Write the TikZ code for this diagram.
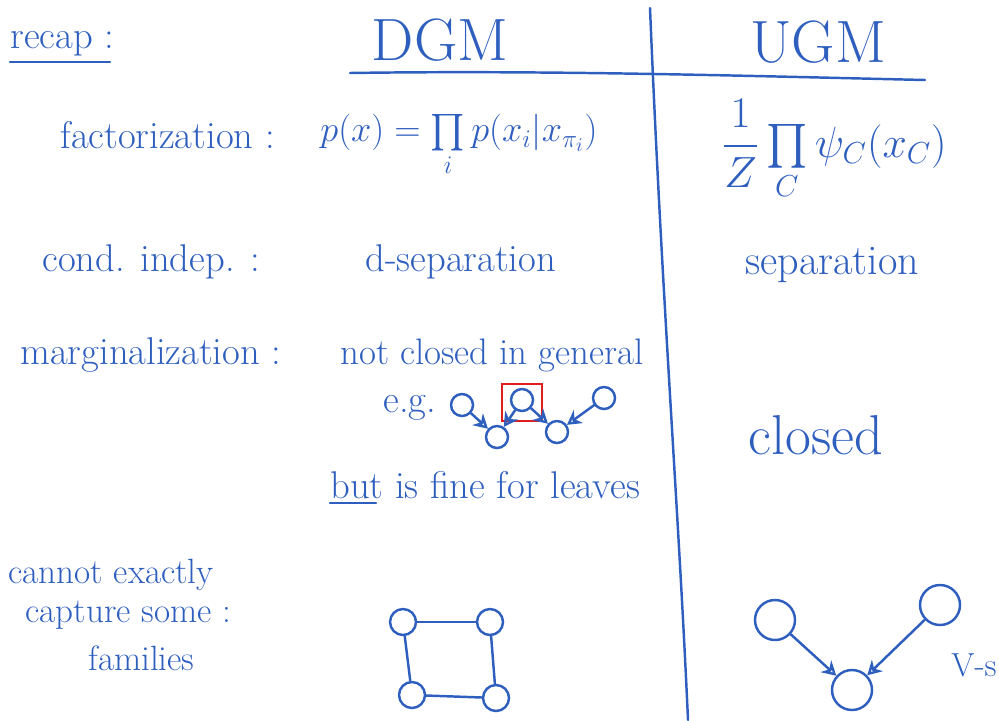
\documentclass[tikz,border=0pt]{standalone}
\usepackage{amsmath}
\usetikzlibrary{arrows.meta}
\definecolor{ink}{RGB}{47,95,190}
\definecolor{redink}{RGB}{225,30,30}
\begin{document}
\begin{tikzpicture}[x=0.02cm,y=-0.02cm,
  hw/.style={text=ink,font=\fontsize{22}{26}\selectfont,anchor=west,inner sep=0pt},
  big/.style={text=ink,font=\fontsize{34}{38}\selectfont,inner sep=0pt,text depth=0pt},
  pen/.style={draw=ink,line width=1.4pt,line cap=round},
  gnode/.style={circle,draw=ink,line width=1.4pt,minimum size=26*0.02cm,inner sep=0pt},
  sgnode/.style={circle,draw=ink,line width=1.4pt,minimum size=22*0.02cm,inner sep=0pt},
  arr/.style={pen,-{Stealth[length=8pt,width=9pt,open]}}]
\useasboundingbox (0,0) rectangle (999,720);
% headings
\node[hw] (recap) at (10,44) {recap :};
\draw[pen] (10,62) -- (110,62);
\node[big] (dgm) at (440,40) {DGM};
\node[big] (ugm) at (818,42) {UGM};
\coordinate (h1) at (350,73);
\coordinate (h2) at (925,80);
\draw[pen] (h1) .. controls (550,70) and (750,76) .. (h2);
\coordinate (v1) at (650,8);
\coordinate (v2) at (688,720);
\draw[pen] (v1) .. controls (662,300) and (678,500) .. (v2);
% factorization
\node[hw] (fact) at (60,135) {factorization :};
\node[hw,font=\fontsize{21}{25}\selectfont] (pfac) at (320,146) {$p(x) = \prod\limits_i p(x_i|x_{\pi_i})$};
\node[hw,font=\fontsize{25}{30}\selectfont] (ufac) at (722,150) {$\dfrac{1}{Z}\prod\limits_C \psi_C(x_C)$};
% cond indep
\node[hw] (ci) at (42,262) {cond. indep. :};
\node[hw] (dsep) at (365,262) {d-separation};
\node[hw,font=\fontsize{24}{28}\selectfont] (sep) at (745,265) {separation};
% marginalization
\node[hw] (marg) at (20,355) {marginalization :};
\node[hw,font=\fontsize{21}{25}\selectfont] (ncl) at (340,355) {not closed in general};
\node[hw] (eg) at (383,408) {e.g.};
\node[hw,font=\fontsize{32}{36}\selectfont] (closed) at (748,435) {closed};
\node[sgnode] (a) at (462,405) {};
\node[sgnode] (b) at (522,400) {};
\node[sgnode] (c) at (604,398) {};
\node[sgnode] (d) at (497,437) {};
\node[sgnode] (e) at (557,432) {};
\draw[draw=redink,line width=1.3pt] (502,384) rectangle (542,421);
\draw[arr] (a) -- (d);
\draw[arr] (b) -- (d);
\draw[arr] (b) -- (e);
\draw[arr] (c) -- (e);
\node[hw] (but) at (330,485) {but is fine for leaves};
\draw[pen] (but.south west) ++(0,4) -- ++(46,0);
% cannot capture
\node[hw,font=\fontsize{20}{24}\selectfont] (cap1) at (8,575) {cannot exactly};
\node[hw,font=\fontsize{20}{24}\selectfont] (cap2) at (25,615) {capture some :};
\node[hw,font=\fontsize{20}{24}\selectfont] (cap3) at (88,658) {families};
\node[gnode] (tl) at (403,622) {};
\node[gnode] (tr) at (490,622) {};
\node[gnode] (bl) at (412,695) {};
\node[gnode] (br) at (496,698) {};
\draw[pen] (tl) -- (tr);
\draw[pen] (tl) -- (bl);
\draw[pen] (tr) -- (br);
\draw[pen] (bl) -- (br);
\node[gnode,minimum size=40*0.02cm] (v) at (775,620) {};
\node[gnode,minimum size=40*0.02cm] (w) at (940,605) {};
\node[gnode,minimum size=40*0.02cm] (z) at (852,690) {};
\draw[arr] (v) -- (z);
\draw[arr] (w) -- (z);
\node[hw,font=\fontsize{19}{22}\selectfont] (vs) at (951,665) {V-s};
\end{tikzpicture}
\end{document}
